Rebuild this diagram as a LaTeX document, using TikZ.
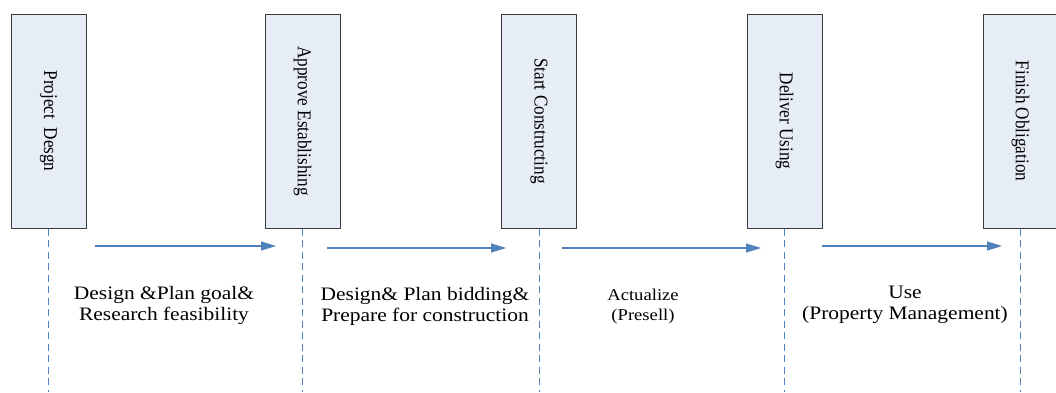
\documentclass[tikz,border=0pt]{standalone}
\usepackage{fontspec}
\setmainfont{Liberation Serif}
\newfontfamily\stagefont[FakeStretch=0.88]{Liberation Serif}
\newfontfamily\labelfont[FakeStretch=1.13]{Liberation Serif}
\usetikzlibrary{arrows.meta}
\definecolor{stagefill}{HTML}{E6EDF7}
\definecolor{stageedge}{HTML}{3A3A3A}
\definecolor{flowblue}{HTML}{4F81BD}
\tikzset{
  stage/.style={draw=stageedge, line width=1pt, fill=stagefill,
    minimum width=75pt, minimum height=214pt, inner sep=0pt},
  stagetext/.style={rotate=-90, font=\stagefont\fontsize{19.5}{22}\selectfont},
  lifeline/.style={draw=flowblue, line width=0.9pt, dash pattern=on 7pt off 4.5pt},
  flow/.style={draw=flowblue, line width=1.1pt, -{Triangle[length=15pt,width=9pt]}},
  phase/.style={align=center, inner sep=0pt,
    font=\labelfont\fontsize{19}{21}\selectfont},
  phasesmall/.style={align=center, inner sep=0pt,
    font=\labelfont\fontsize{16.5}{20}\selectfont},
}
\begin{document}
\begin{tikzpicture}[x=1pt, y=-1pt]
\useasboundingbox (0,0) rectangle (1056,392);

% project stages
\node[stage] (b1) at (48.5,121) {};
\node[stage] (b2) at (302.5,121) {};
\node[stage] (b3) at (539,121) {};
\node[stage] (b4) at (784.5,121) {};
\node[stage] (b5) at (1020.5,121) {};
\node[stagetext] (t1) at (b1) {Project\ \ Desgn};
\node[stagetext] (t2) at (b2) {Approve Establishing};
\node[stagetext] (t3) at (b3) {Start Constructing};
\node[stagetext] (t4) at (b4) {Deliver Using};
\node[stagetext] (t5) at (b5) {Finish Obligation};

% lifelines below each stage
\foreach \i/\x in {1/48.5,2/302.5,3/539,4/784.5,5/1020.5}{
  \coordinate (l\i) at (\x,392);
  \draw[lifeline] (b\i.south) -- (l\i);
}

% transitions between stages
\coordinate (a1s) at (95,246);  \coordinate (a1e) at (276,246);
\coordinate (a2s) at (327,248); \coordinate (a2e) at (506,248);
\coordinate (a3s) at (562,248); \coordinate (a3e) at (761,248);
\coordinate (a4s) at (822,246); \coordinate (a4e) at (1002,246);
\draw[flow] (a1s) -- (a1e);
\draw[flow] (a2s) -- (a2e);
\draw[flow] (a3s) -- (a3e);
\draw[flow] (a4s) -- (a4e);

% phase descriptions
\node[phase] (p1) at (164,305) {Design \&Plan goal\&\\Research feasibility};
\node[phase] (p2) at (425,306) {Design\& Plan bidding\&\\Prepare for construction};
\node[phasesmall] (p3) at (643,307) {Actualize\\(Presell)};
\node[phase] (p4) at (905,305) {Use\\(Property Management)};
\end{tikzpicture}
\end{document}
